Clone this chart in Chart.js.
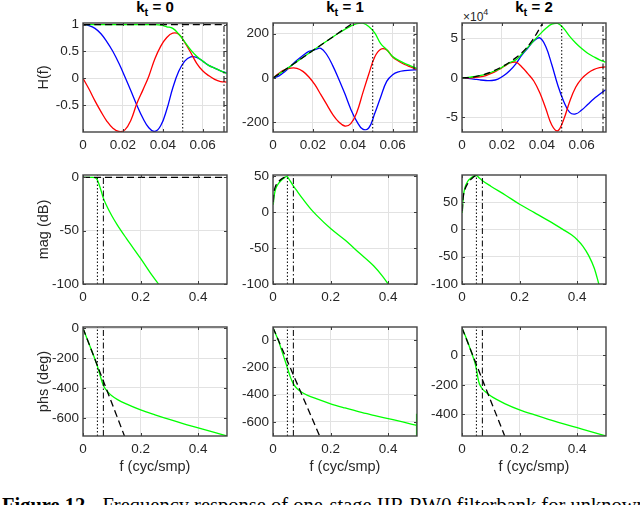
<!DOCTYPE html>
<html>
<head>
<meta charset="utf-8">
<script src="https://cdn.jsdelivr.net/npm/chart.js@4.4.1/dist/chart.umd.min.js"></script>
<style>
  body { margin: 0; width: 640px; height: 505px; background: #fff; position: relative; overflow: hidden;
         font-family: "Liberation Sans", Arial, sans-serif; color: #262626; }
  canvas { position: absolute; }
  .ttl { position: absolute; top: -1px; width: 120px; margin-left: -60px; text-align: center;
         font-weight: bold; font-size: 15px; line-height: 15px; color: #000; white-space: nowrap; }
  .ttl span { font-size: 11px; position: relative; top: 4px; }
  .expo { position: absolute; left: 463px; top: 8px; font-size: 12px; color: #262626; }
  .expo sup { font-size: 9px; position: relative; top: -1px; }
  .caption { position: absolute; left: 2px; top: 495px; font-family: "Liberation Serif", "Times New Roman", serif;
             font-size: 20.5px; line-height: 20px; color: #000; white-space: nowrap; }
  .caption .rest { margin-left: 12px; }
</style>
</head>
<body>
<div class="ttl" style="left:155px">k<span>t</span> = 0</div>
<div class="ttl" style="left:345px">k<span>t</span> = 1</div>
<div class="ttl" style="left:534px">k<span>t</span> = 2</div>
<div class="expo">&times;10<sup>4</sup></div>

<canvas id="c0"></canvas><canvas id="c1"></canvas><canvas id="c2"></canvas>
<canvas id="c3"></canvas><canvas id="c4"></canvas><canvas id="c5"></canvas>
<canvas id="c6"></canvas><canvas id="c7"></canvas><canvas id="c8"></canvas>

<div class="caption"><b>Figure 12.</b><span class="rest">Frequency response of one-stage IIR RW0 filterbank for unknown</span></div>

<script>
// band edges (cyc/smp)
const fPass = 0.05;
const fStop = 0.0707;

// ---- top row: H(f), real (blue), imag (red), magnitude (green), ideal (dashed)
const fTop = [0, 0.003, 0.006, 0.009, 0.012, 0.015, 0.018, 0.021, 0.024, 0.027, 0.030, 0.033, 0.036,
              0.039, 0.042, 0.045, 0.048, 0.051, 0.054, 0.057, 0.060, 0.063, 0.066, 0.069, 0.072];

const h0Re  = [1, 0.98, 0.93, 0.83, 0.68, 0.5, 0.28, 0.03, -0.23, -0.5, -0.74, -0.92, -0.99,
               -0.88, -0.58, -0.18, 0.13, 0.32, 0.4, 0.39, 0.32, 0.24, 0.19, 0.14, 0.1];
const h0Im  = [0, -0.2, -0.42, -0.62, -0.8, -0.93, -0.99, -0.96, -0.78, -0.47, -0.22, 0.04, 0.36,
               0.6, 0.76, 0.84, 0.82, 0.67, 0.48, 0.28, 0.14, 0.05, -0.02, -0.06, -0.07];
const h0Mag = [1, 1, 1, 1, 1, 1, 1, 1, 1, 1, 1, 1, 1,
               0.99, 0.96, 0.93, 0.825, 0.68, 0.53, 0.41, 0.32, 0.24, 0.19, 0.14, 0.09];
const h0IdealF = [0, 0.0722];
const h0Ideal  = [1, 1];

const h1Re  = [0, 10, 30, 55, 80, 102, 120, 128, 134, 105, 55, -5, -70,
               -140, -195, -230, -225, -160, -85, -15, 15, 28, 33, 36, 37];
const h1Im  = [0, 22, 38, 45, 44, 30, 5, -30, -75, -120, -165, -198, -216,
               -205, -155, -68, 17, 95, 130, 127, 95, 76, 61, 50, 40];
const h1Mag = [0, 18, 36, 55, 74, 93, 112, 131, 149, 167, 185, 203, 219,
               234, 245, 247, 232, 203, 155, 128, 97, 80, 66, 55, 44];
const h1IdealF = [0, 0.0404];
const h1Ideal  = [0, 250];

// kt = 2 values in units of 1e4
const h2Re  = [0, -0.05, -0.15, -0.26, -0.33, -0.33, -0.15, 0.3, 0.95, 1.8, 2.9, 3.8, 4.7,
               5.1, 4.0, 1.7, -0.9, -3.0, -4.4, -4.6, -4.1, -3.4, -2.7, -2.1, -1.5];
const h2Im  = [0, 0.01, 0.05, 0.12, 0.3, 0.6, 1.0, 1.45, 1.9, 2.0, 1.4, 0.55, -0.4,
               -1.9, -3.9, -6.0, -6.75, -5.3, -3.0, -1.2, -0.1, 0.6, 1.05, 1.3, 1.4];
const h2Mag = [0, 0.06, 0.17, 0.3, 0.48, 0.75, 1.05, 1.5, 1.95, 2.3, 3.05, 3.9, 4.75,
               5.55, 6.3, 6.85, 6.95, 6.3, 5.3, 4.45, 3.74, 3.15, 2.7, 2.3, 2.02];
const h2IdealF = [0, 0.005, 0.01, 0.015, 0.02, 0.025, 0.03, 0.035, 0.0405];
const h2Ideal  = [0, 0.08, 0.36, 0.8, 1.42, 2.2, 3.2, 4.7, 7.0];

// ---- middle row: magnitude (dB)
const m0F = [0, 0.035, 0.04, 0.045, 0.05, 0.055, 0.06, 0.07, 0.08, 0.1, 0.12, 0.15, 0.2, 0.24, 0.262];
const m0  = [0, 0, -0.2, -0.8, -2.6, -6, -10, -19, -25.5, -36, -45, -57, -76, -92, -100];
const m0IdealF = [0, 0.5];
const m0Ideal  = [0, 0];

const m1F = [0.001, 0.003, 0.006, 0.01, 0.02, 0.03, 0.04, 0.048, 0.055, 0.06, 0.07, 0.08, 0.1,
             0.13, 0.15, 0.2, 0.25, 0.3, 0.35, 0.38, 0.4];
const m1  = [10, 19, 27, 33, 40, 44.5, 47.8, 49.5, 46, 43, 36.5, 31, 20,
             4.6, -4, -23, -39, -57, -75, -89, -100];
const m1IdealF = [0.001, 0.003, 0.006, 0.01, 0.02, 0.03, 0.04, 0.048, 0.053];
const m1Ideal  = [14, 26, 32.5, 37, 42.5, 46, 48.3, 50, 51.5];

const m2F = [0.001, 0.003, 0.005, 0.01, 0.02, 0.03, 0.04, 0.05, 0.06, 0.07, 0.1, 0.15, 0.2, 0.25,
             0.3, 0.35, 0.38, 0.4, 0.42, 0.44, 0.46, 0.475];
const m2  = [30, 50, 62, 76, 88, 93.5, 97, 98.5, 94, 89.5, 79, 63, 46, 31,
             16, 0, -10, -19, -31, -48, -72, -100];
const m2IdealF = [0.001, 0.003, 0.005, 0.01, 0.02, 0.03, 0.04, 0.049];
const m2Ideal  = [33, 52, 62, 73, 84, 91, 96, 99.5];

// ---- bottom row: phase (deg)
const p0F = [0, 0.01, 0.02, 0.03, 0.04, 0.05, 0.06, 0.07, 0.08, 0.09, 0.1, 0.12, 0.15, 0.2, 0.25,
             0.3, 0.35, 0.4, 0.45, 0.5];
const p0  = [0, -50, -100, -150, -200, -255, -320, -380, -412, -435, -452, -478, -507, -547, -580,
             -611, -640, -667, -695, -722];
const p0IdealF = [0, 0.144];
const p0Ideal  = [0, -722];

const p1F = [0, 0.01, 0.02, 0.03, 0.04, 0.05, 0.06, 0.07, 0.08, 0.09, 0.1, 0.12, 0.15, 0.2, 0.25,
             0.3, 0.35, 0.4, 0.45, 0.5];
const p1  = [90, 40, -12, -75, -140, -205, -270, -318, -348, -368, -383, -405, -430, -467, -498,
             -527, -552, -576, -600, -626];
const p1TailF = [0.4985, 0.4985];
const p1Tail  = [-540, -712];
const p1IdealF = [0, 0.162];
const p1Ideal  = [90, -703];

const p2F = [0, 0.01, 0.02, 0.03, 0.04, 0.045, 0.05, 0.055, 0.06, 0.07, 0.08, 0.1, 0.12, 0.15, 0.2,
             0.25, 0.3, 0.35, 0.4, 0.45, 0.5];
const p2  = [185, 140, 90, 35, -20, -50, -95, -150, -190, -225, -245, -275, -298, -328, -369,
             -402, -433, -462, -490, -518, -545];
const p2IdealF = [0, 0.148];
const p2Ideal  = [185, -545];

// ---- axis limits and ticks
const xLimTop = [0, 0.0722];
const xLimWide = [0, 0.5];
const xTicksTop = [0, 0.02, 0.04, 0.06];
const xTicksWide = [0, 0.2, 0.4];

const yLimH0 = [-1, 1.03],   yTicksH0 = [-0.5, 0, 0.5, 1];
const yLimH1 = [-243, 248],  yTicksH1 = [-200, 0, 200];
const yLimH2 = [-6.9, 7.0],  yTicksH2 = [-5, 0, 5];
const yLimM0 = [-100, 2.2],  yTicksM0 = [-100, -50, 0];
const yLimM1 = [-100, 51.4], yTicksM1 = [-100, -50, 0, 50];
const yLimM2 = [-100, 99.5], yTicksM2 = [-100, -50, 0, 50];
const yLimP0 = [-722, 8],    yTicksP0 = [-600, -400, -200, 0];
const yLimP1 = [-703, 95],   yTicksP1 = [-600, -400, -200, 0];
const yLimP2 = [-546, 192],  yTicksP2 = [-400, -200, 0];

// ---- layout (pixels)
const colLeft = [83, 273, 462];
const rowTop = [23, 175, 327];
const plotW = 144, plotH = 109;
const padL = 50, padT = 10, padR = 8;

const BLUE = '#0000ff', RED = '#ff0000', GREEN = '#00ff00', BLACK = '#000000';
const DASH = [7, 4], DOT = [1.5, 2], DASHDOT = [6, 2.5, 1.5, 2.5];
const FONT = '"Liberation Sans", Arial, Helvetica, sans-serif';
const INK = '#262626';

function pts(xs, ys) {
  return xs.map((x, i) => ({ x: x, y: ys[i] }));
}

function curve(xs, ys, color, dash, mode) {
  return {
    data: pts(xs, ys),
    borderColor: color,
    borderWidth: 1.3,
    borderDash: dash || [],
    pointRadius: 0,
    fill: false,
    tension: mode ? 0.4 : 0,
    cubicInterpolationMode: mode === 'mono' ? 'monotone' : 'default'
  };
}

function vline(f, lim, dash) {
  const d = curve([f, f], lim, BLACK, dash, null);
  d.borderWidth = 1;
  return d;
}

// box round the plot area plus small inward tick marks, MATLAB style
const boxPlugin = {
  id: 'box',
  afterDatasetsDraw(chart) {
    const a = chart.chartArea, ctx = chart.ctx;
    const xs = chart.scales.x, ys = chart.scales.y;
    ctx.save();
    ctx.strokeStyle = '#3c3c3c';
    ctx.lineWidth = 1;
    ctx.beginPath();
    xs.ticks.forEach(t => {
      const p = Math.round(xs.getPixelForValue(t.value)) + 0.5;
      ctx.moveTo(p, a.bottom); ctx.lineTo(p, a.bottom - 3);
      ctx.moveTo(p, a.top); ctx.lineTo(p, a.top + 3);
    });
    ys.ticks.forEach(t => {
      const p = Math.round(ys.getPixelForValue(t.value)) + 0.5;
      ctx.moveTo(a.left, p); ctx.lineTo(a.left + 3, p);
      ctx.moveTo(a.right, p); ctx.lineTo(a.right - 3, p);
    });
    ctx.stroke();
    ctx.lineWidth = 1.4;
    ctx.strokeStyle = '#444444';
    ctx.strokeRect(a.left, a.top, a.right - a.left, a.bottom - a.top);
    ctx.restore();
  }
};

function makePanel(idx, datasets, xLim, xTicks, yLim, yTicks, yTitle, xTitle) {
  const row = Math.floor(idx / 3), col = idx % 3;
  const xH = xTitle ? 40 : 24;
  const cv = document.getElementById('c' + idx);
  cv.width = padL + plotW + padR;
  cv.height = padT + plotH + xH;
  cv.style.left = (colLeft[col] - padL) + 'px';
  cv.style.top = (rowTop[row] - padT) + 'px';

  const tickFont = { family: FONT, size: 13.5 };
  new Chart(cv.getContext('2d'), {
    type: 'line',
    data: { datasets: datasets },
    plugins: [boxPlugin],
    options: {
      responsive: false,
      animation: false,
      devicePixelRatio: 1,
      layout: { padding: { left: 0, top: padT, right: padR, bottom: 0 } },
      plugins: { legend: { display: false }, tooltip: { enabled: false } },
      scales: {
        x: {
          type: 'linear', min: xLim[0], max: xLim[1], bounds: 'data',
          afterBuildTicks: s => { s.ticks = xTicks.map(v => ({ value: v })); },
          afterFit: s => { s.height = xH; s.paddingLeft = 0; s.paddingRight = 0; },
          grid: { color: '#e2e2e2', lineWidth: 1, drawTicks: false },
          border: { display: false },
          ticks: { font: tickFont, color: INK, padding: 5, autoSkip: false, maxRotation: 0,
                   callback: v => String(v) },
          title: xTitle ? { display: true, text: xTitle, color: INK,
                            font: { family: FONT, size: 14.5 }, padding: { top: 0, bottom: 0 } }
                        : { display: false }
        },
        y: {
          type: 'linear', min: yLim[0], max: yLim[1], bounds: 'data',
          afterBuildTicks: s => { s.ticks = yTicks.map(v => ({ value: v })); },
          afterFit: s => { s.width = padL; s.paddingTop = 0; s.paddingBottom = 0; },
          grid: { color: '#e2e2e2', lineWidth: 1, drawTicks: false },
          border: { display: false },
          ticks: { font: tickFont, color: INK, padding: 4, autoSkip: false,
                   callback: v => String(v) },
          title: yTitle ? { display: true, text: yTitle, color: INK,
                            font: { family: FONT, size: 14.5 }, padding: { top: 2, bottom: 0 } }
                        : { display: false }
        }
      }
    }
  });
}

function topSet(re, im, mag, idF, id, yLim) {
  return [
    vline(fPass, yLim, DOT),
    vline(fStop, yLim, DASHDOT),
    curve(idF, id, BLACK, DASH, 'bez'),
    curve(fTop, mag, GREEN, null, 'bez'),
    curve(fTop, im, RED, null, 'bez'),
    curve(fTop, re, BLUE, null, 'bez')
  ];
}

function lowSet(f, v, idF, id, yLim, extra) {
  const ds = [
    vline(fPass, yLim, DOT),
    vline(fStop, yLim, DASHDOT),
    curve(idF, id, BLACK, DASH, idF.length > 2 ? 'mono' : null),
    curve(f, v, GREEN, null, 'mono')
  ];
  if (extra) ds.push(extra);
  return ds;
}

makePanel(0, topSet(h0Re, h0Im, h0Mag, h0IdealF, h0Ideal, yLimH0), xLimTop, xTicksTop, yLimH0, yTicksH0, 'H(f)');
makePanel(1, topSet(h1Re, h1Im, h1Mag, h1IdealF, h1Ideal, yLimH1), xLimTop, xTicksTop, yLimH1, yTicksH1);
makePanel(2, topSet(h2Re, h2Im, h2Mag, h2IdealF, h2Ideal, yLimH2), xLimTop, xTicksTop, yLimH2, yTicksH2);

makePanel(3, lowSet(m0F, m0, m0IdealF, m0Ideal, yLimM0), xLimWide, xTicksWide, yLimM0, yTicksM0, 'mag (dB)');
makePanel(4, lowSet(m1F, m1, m1IdealF, m1Ideal, yLimM1), xLimWide, xTicksWide, yLimM1, yTicksM1);
makePanel(5, lowSet(m2F, m2, m2IdealF, m2Ideal, yLimM2), xLimWide, xTicksWide, yLimM2, yTicksM2);

makePanel(6, lowSet(p0F, p0, p0IdealF, p0Ideal, yLimP0), xLimWide, xTicksWide, yLimP0, yTicksP0, 'phs (deg)', 'f (cyc/smp)');
makePanel(7, lowSet(p1F, p1, p1IdealF, p1Ideal, yLimP1, curve(p1TailF, p1Tail, GREEN, null, null)),
          xLimWide, xTicksWide, yLimP1, yTicksP1, null, 'f (cyc/smp)');
makePanel(8, lowSet(p2F, p2, p2IdealF, p2Ideal, yLimP2), xLimWide, xTicksWide, yLimP2, yTicksP2, null, 'f (cyc/smp)');
</script>
</body>
</html>
